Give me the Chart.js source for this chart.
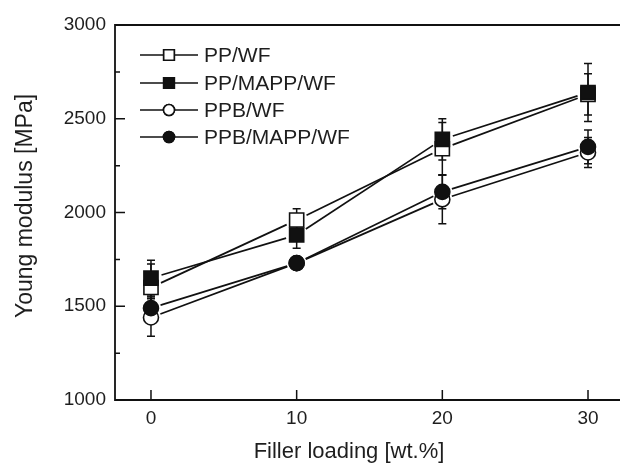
<!DOCTYPE html>
<html>
<head>
<meta charset="utf-8">
<script src="https://cdn.jsdelivr.net/npm/chart.js@4.4.0/dist/chart.umd.min.js"></script>
<style>
    html, body { margin: 0; padding: 0; background: #fff; overflow: hidden; }
    #wrap { width: 620px; height: 467px; }
    canvas { display: block; }
</style>
</head>
<body>
<div id="wrap"><canvas id="modulusChart" width="620" height="467"></canvas></div>
<script>
// Data
const fillerLoading = [0, 10, 20, 30];
const seriesNames = ['PP/WF', 'PP/MAPP/WF', 'PPB/WF', 'PPB/MAPP/WF'];
const ppWf = [1600, 1960, 2340, 2630];
const ppMappWf = [1650, 1880, 2390, 2640];
const ppbWf = [1440, 1730, 2070, 2320];
const ppbMappWf = [1490, 1730, 2110, 2350];
// error bar half-widths
const ppWfErr = [125, 60, 140, 110];
const ppMappWfErr = [95, 70, 110, 155];
const ppbWfErr = [100, 30, 130, 80];
const ppbMappWfErr = [60, 30, 90, 90];
const xTicks = [0, 10, 20, 30];
const yTicks = [1000, 1500, 2000, 2500, 3000];
const xTitle = 'Filler loading [wt.%]';
const yTitle = 'Young modulus [MPa]';

const FONT = '"Liberation Sans", Arial, sans-serif';
const INK = '#111';
const TEXT = '#1e1e1e';

function toPoints(values) {
    return fillerLoading.map((x, i) => ({ x: x, y: values[i] }));
}

const datasets = [
    { label: seriesNames[0], data: toPoints(ppWf), err: ppWfErr, pointStyle: 'rect', pointRadius: 10, pointBackgroundColor: '#fff', order: 4 },
    { label: seriesNames[1], data: toPoints(ppMappWf), err: ppMappWfErr, pointStyle: 'rect', pointRadius: 10, pointBackgroundColor: INK, order: 3 },
    { label: seriesNames[2], data: toPoints(ppbWf), err: ppbWfErr, pointStyle: 'circle', pointRadius: 7.5, pointBackgroundColor: '#fff', order: 2 },
    { label: seriesNames[3], data: toPoints(ppbMappWf), err: ppbMappWfErr, pointStyle: 'circle', pointRadius: 7.5, pointBackgroundColor: INK, order: 1 }
].map(ds => Object.assign(ds, {
    showLine: false,
    borderColor: INK,
    pointBorderColor: INK,
    pointBorderWidth: 1.6,
    pointHoverRadius: ds.pointRadius
}));

// Lines between markers, stopping short of them like the original plot
const gapLines = {
    id: 'gapLines',
    beforeDatasetsDraw(chart) {
        const ctx = chart.ctx;
        ctx.save();
        ctx.strokeStyle = INK;
        ctx.lineWidth = 1.7;
        chart.data.datasets.forEach((ds, i) => {
            const pts = chart.getDatasetMeta(i).data;
            const gap = ds.pointStyle === 'rect' ? 11 : 10;
            for (let k = 0; k < pts.length - 1; k++) {
                const a = pts[k], b = pts[k + 1];
                const dx = b.x - a.x, dy = b.y - a.y;
                const len = Math.hypot(dx, dy);
                const ux = dx / len, uy = dy / len;
                ctx.beginPath();
                ctx.moveTo(a.x + ux * gap, a.y + uy * gap);
                ctx.lineTo(b.x - ux * gap, b.y - uy * gap);
                ctx.stroke();
            }
        });
        ctx.restore();
    }
};

// Error bars from the err arrays
const errorBars = {
    id: 'errorBars',
    beforeDatasetsDraw(chart) {
        const ctx = chart.ctx;
        const yScale = chart.scales.y;
        ctx.save();
        ctx.strokeStyle = INK;
        ctx.lineWidth = 1.5;
        chart.data.datasets.forEach((ds, i) => {
            chart.getDatasetMeta(i).data.forEach((pt, k) => {
                const v = ds.data[k].y;
                const top = yScale.getPixelForValue(v + ds.err[k]);
                const bottom = yScale.getPixelForValue(v - ds.err[k]);
                ctx.beginPath();
                ctx.moveTo(pt.x, top);
                ctx.lineTo(pt.x, bottom);
                ctx.moveTo(pt.x - 4, top);
                ctx.lineTo(pt.x + 4, top);
                ctx.moveTo(pt.x - 4, bottom);
                ctx.lineTo(pt.x + 4, bottom);
                ctx.stroke();
            });
        });
        ctx.restore();
    }
};

// Frame (left, top, bottom; the right edge is cropped off in the original) with inward ticks
const frame = {
    id: 'frame',
    afterDraw(chart) {
        const ctx = chart.ctx;
        const area = chart.chartArea;
        const xs = chart.scales.x, ys = chart.scales.y;
        ctx.save();
        ctx.strokeStyle = INK;
        ctx.lineWidth = 1.8;
        ctx.beginPath();
        ctx.moveTo(chart.width, area.top);
        ctx.lineTo(area.left, area.top);
        ctx.lineTo(area.left, area.bottom);
        ctx.lineTo(chart.width, area.bottom);
        ctx.stroke();
        ctx.lineWidth = 1.5;
        ctx.beginPath();
        for (let v = yTicks[0]; v <= yTicks[yTicks.length - 1]; v += 250) {
            const y = ys.getPixelForValue(v);
            const len = v % 500 === 0 ? 10 : 5;
            ctx.moveTo(area.left, y);
            ctx.lineTo(area.left + len, y);
        }
        xTicks.forEach(v => {
            const x = xs.getPixelForValue(v);
            ctx.moveTo(x, area.bottom);
            ctx.lineTo(x, area.bottom - 10);
        });
        ctx.stroke();

        // axis titles, placed as in the original figure
        ctx.fillStyle = TEXT;
        ctx.textAlign = 'center';
        ctx.textBaseline = 'middle';
        ctx.font = '22px ' + FONT;
        ctx.fillText(xTitle, 349, 452);
        ctx.font = '23px ' + FONT;
        ctx.translate(26, 206);
        ctx.rotate(-Math.PI / 2);
        ctx.fillText(yTitle, 0, 0);
        ctx.restore();
    }
};

// Legend inside the plot, line through marker
const insideLegend = {
    id: 'insideLegend',
    afterDraw(chart) {
        const ctx = chart.ctx;
        const rowY = [55, 83, 110, 137];
        ctx.save();
        ctx.font = '21px ' + FONT;
        ctx.textBaseline = 'middle';
        ctx.fillStyle = TEXT;
        chart.data.datasets.forEach((ds, i) => {
            const y = rowY[i];
            ctx.strokeStyle = INK;
            ctx.lineWidth = 1.7;
            ctx.beginPath();
            ctx.moveTo(140, y);
            ctx.lineTo(198, y);
            ctx.stroke();
            ctx.fillStyle = ds.pointBackgroundColor;
            ctx.lineWidth = 1.6;
            Chart.helpers.drawPoint(ctx, {
                pointStyle: ds.pointStyle,
                radius: ds.pointStyle === 'rect' ? 7.5 : 5.5,
                rotation: 0,
                borderWidth: 1.6
            }, 169, y);
            ctx.fill();
            ctx.stroke();
            ctx.fillStyle = TEXT;
            ctx.fillText(ds.label, 204, y + 1);
        });
        ctx.restore();
    }
};

new Chart(document.getElementById('modulusChart'), {
    type: 'line',
    data: { datasets: datasets },
    plugins: [gapLines, errorBars, frame, insideLegend],
    options: {
        responsive: false,
        animation: false,
        layout: { padding: { left: 0, top: 25, right: 0, bottom: 0 } },
        plugins: {
            legend: { display: false },
            tooltip: { enabled: false }
        },
        scales: {
            x: {
                type: 'linear',
                min: -2.47,
                max: 31.4,
                afterFit: scale => {
                    scale.height = 67;
                    scale.paddingLeft = 0;
                    scale.paddingRight = 0;
                },
                afterBuildTicks: scale => { scale.ticks = xTicks.map(v => ({ value: v })); },
                grid: { display: false, drawTicks: false },
                border: { display: false },
                ticks: {
                    color: TEXT,
                    font: { family: FONT, size: 19 },
                    padding: 7,
                    callback: v => String(v)
                },
                title: { display: false }
            },
            y: {
                min: 1000,
                max: 3000,
                afterFit: scale => {
                    scale.width = 115;
                    scale.paddingTop = 0;
                    scale.paddingBottom = 0;
                },
                afterBuildTicks: scale => { scale.ticks = yTicks.map(v => ({ value: v })); },
                grid: { display: false, drawTicks: false },
                border: { display: false },
                ticks: {
                    color: TEXT,
                    font: { family: FONT, size: 19 },
                    padding: 9,
                    callback: v => String(v)
                },
                title: { display: false }
            }
        }
    }
});
</script>
</body>
</html>
